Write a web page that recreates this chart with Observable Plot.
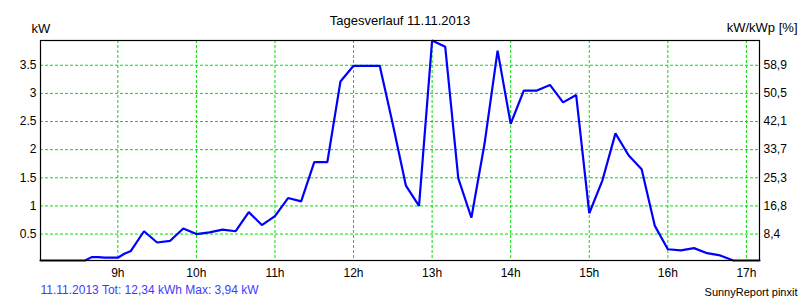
<!DOCTYPE html>
<html>
<head>
<meta charset="utf-8">
<script src="https://cdn.jsdelivr.net/npm/d3@7"></script>
<script src="https://cdn.jsdelivr.net/npm/@observablehq/plot@0.6"></script>
<style>
  html, body { margin: 0; padding: 0; background: #fff; }
</style>
</head>
<body>
<div id="chart"></div>
<script>
const times = ["08:00","08:35","08:40","08:45","08:50","09:00","09:05","09:10","09:20","09:30","09:40","09:50",
  "10:00","10:10","10:20","10:30","10:40","10:50","11:00","11:10","11:20","11:30","11:40","11:50",
  "12:00","12:10","12:20","12:30","12:40","12:50","13:00","13:10","13:20","13:30","13:40","13:50",
  "14:00","14:10","14:20","14:30","14:40","14:50","15:00","15:10","15:20","15:30","15:40","15:50",
  "16:00","16:10","16:20","16:30","16:40","16:50","17:00","17:10"];
const power = [0,0,0.09,0.09,0.08,0.08,0.15,0.2,0.55,0.35,0.38,0.6,
  0.5,0.53,0.58,0.55,0.89,0.66,0.82,1.14,1.08,1.78,1.78,3.21,
  3.49,3.49,3.49,2.45,1.36,1.0,3.94,3.83,1.49,0.79,2.1,3.76,
  2.46,3.05,3.05,3.15,2.84,2.97,0.87,1.45,2.29,1.9,1.65,0.65,
  0.23,0.21,0.25,0.16,0.12,0,0,0];
const hourTicks = [9,10,11,12,13,14,15,16,17];
const hourLabels = ["9h","10h","11h","12h","13h","14h","15h","16h","17h"];
const kwTicks = [0.5,1,1.5,2,2.5,3,3.5];
const kwLabels = ["0.5","1","1.5","2","2.5","3","3.5"];
const pctLabels = ["8,4","16,8","25,3","33,7","42,1","50,5","58,9"];
const title = "Tagesverlauf 11.11.2013";
const leftUnit = "kW";
const rightUnit = "kW/kWp [%]";
const footerLeft = "11.11.2013 Tot: 12,34 kWh Max: 3,94 kW";
const footerRight = "SunnyReport pinxit";

const toHour = s => { const [h, m] = s.split(":").map(Number); return h + m / 60; };
const data = times.map((t, i) => ({x: toHour(t), y: power[i]}));

const green = "#00e000";
const chart = Plot.plot({
  width: 800,
  height: 300,
  marginLeft: 40,
  marginRight: 41,
  marginTop: 40,
  marginBottom: 40,
  style: {fontFamily: "'Liberation Sans', Arial, sans-serif", fontSize: "12px", color: "#000", background: "#fff"},
  x: {domain: [8.016, 17 + 10/60], clamp: true},
  y: {domain: [0.03, 3.94], clamp: true},
  marks: [
    Plot.gridX(hourTicks, {stroke: green, strokeOpacity: 1, strokeDasharray: "3,2"}),
    Plot.gridY(kwTicks, {stroke: green, strokeOpacity: 1, strokeDasharray: "3,2"}),
    Plot.axisX(hourTicks, {tickSize: 0, tickPadding: 8, tickFormat: (d, i) => hourLabels[i], label: null}),
    Plot.axisY(kwTicks, {anchor: "left", tickSize: 0, tickPadding: 4, tickFormat: (d, i) => kwLabels[i], label: null}),
    Plot.axisY(kwTicks, {anchor: "right", tickSize: 0, tickPadding: 4, tickFormat: (d, i) => pctLabels[i], label: null}),
    Plot.line(data, {x: "x", y: "y", stroke: "#0000ff", strokeWidth: 2.2, strokeLinejoin: "miter"}),
    Plot.frame({stroke: "#000", strokeWidth: 1.2}),
    Plot.text([title], {frameAnchor: "top", lineAnchor: "middle", dy: -20, fontSize: 13, fill: "#000"}),
    Plot.text([leftUnit], {frameAnchor: "top-left", lineAnchor: "middle", textAnchor: "start", dx: -9, dy: -12, fontSize: 13, fill: "#000"}),
    Plot.text([rightUnit], {frameAnchor: "top-right", lineAnchor: "middle", textAnchor: "end", dx: 38, dy: -13, fontSize: 13, fill: "#000"}),
    Plot.text([footerLeft], {frameAnchor: "bottom-left", lineAnchor: "middle", textAnchor: "start", dx: 0, dy: 30, fontSize: 12, fill: "#3c3cff"}),
    Plot.text([footerRight], {frameAnchor: "bottom-right", lineAnchor: "middle", textAnchor: "end", dx: 38, dy: 32, fontSize: 11, fill: "#000"})
  ]
});
document.getElementById("chart").appendChild(chart);
</script>
</body>
</html>
